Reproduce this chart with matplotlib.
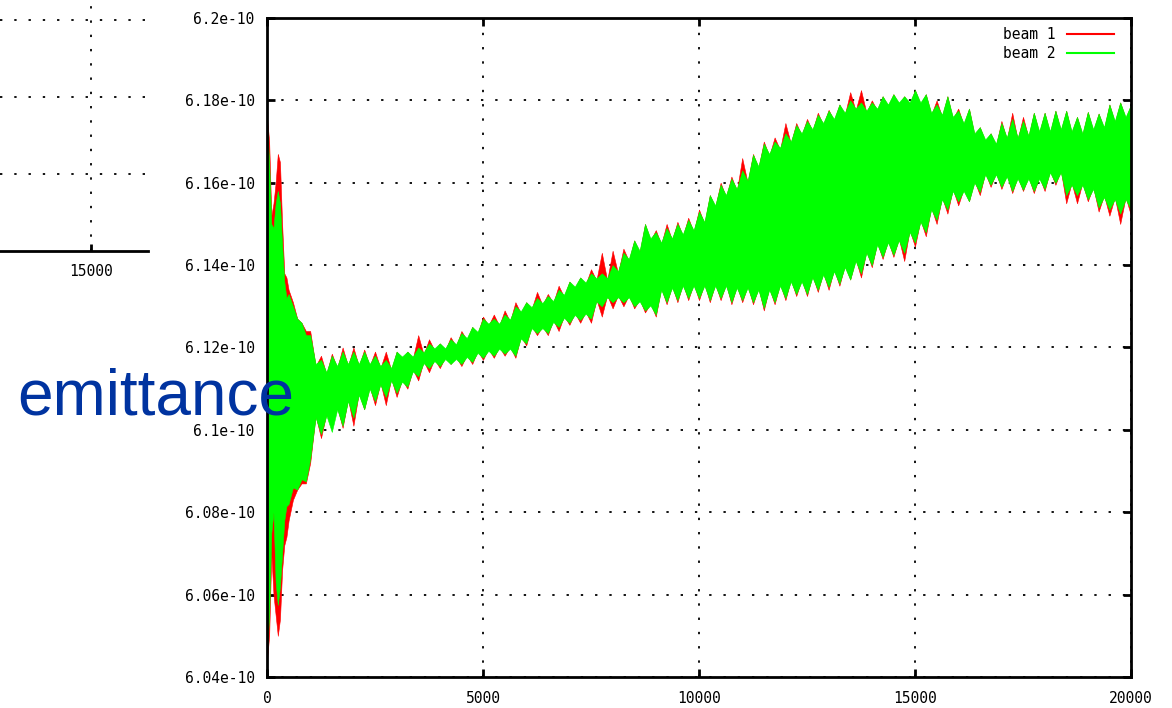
import numpy as np
import matplotlib
matplotlib.use("Agg")
import matplotlib.pyplot as plt
from matplotlib.lines import Line2D

# ---------------- data (emittance in units of 1e-10) ----------------
# early turns (large oscillations)
turns_early = [0, 50, 100, 150, 200, 250, 300, 350, 400, 450, 500, 600, 700, 800, 900]
beam2_max_early = [6.174, 6.165, 6.150, 6.149, 6.155, 6.158, 6.155, 6.145, 6.136, 6.132, 6.133, 6.130, 6.127, 6.126, 6.123]
beam2_min_early = [6.046, 6.055, 6.075, 6.080, 6.063, 6.0575, 6.062, 6.070, 6.078, 6.0815, 6.082, 6.086, 6.0855, 6.088, 6.0875]
beam1_max_early = [6.176, 6.170, 6.152, 6.155, 6.160, 6.167, 6.165, 6.150, 6.138, 6.137, 6.134, 6.131, 6.127, 6.126, 6.124]
beam1_min_early = [6.044, 6.050, 6.070, 6.060, 6.055, 6.050, 6.054, 6.066, 6.072, 6.074, 6.078, 6.083, 6.0855, 6.087, 6.087]

# envelope extremes (tooth tips), every 250 turns from 1000 to 20000
turns_tip = list(range(1000, 20001, 250))
beam2_max_tip = [6.123, 6.117, 6.118, 6.119, 6.119, 6.119, 6.118, 6.117, 6.119, 6.119, 6.120, 6.121,
                 6.121, 6.122, 6.1235, 6.125, 6.127, 6.127, 6.128, 6.130, 6.131, 6.132, 6.1325, 6.134,
                 6.136, 6.137, 6.138, 6.138, 6.140, 6.143, 6.146, 6.150, 6.148, 6.149, 6.150, 6.151,
                 6.153, 6.157, 6.1595, 6.161, 6.163, 6.1668, 6.1695, 6.170, 6.172, 6.174,
                 6.175, 6.1765, 6.1775, 6.179, 6.180, 6.1795, 6.1795, 6.181, 6.1815, 6.181,
                 6.1825, 6.1815, 6.179, 6.181, 6.1775, 6.178, 6.1735, 6.172, 6.1745, 6.1755,
                 6.175, 6.177, 6.177, 6.1775, 6.1775, 6.176, 6.1772, 6.1768, 6.179, 6.1795, 6.179]
beam2_min_tip = [6.093, 6.099, 6.0995, 6.101, 6.103, 6.105, 6.107, 6.108, 6.109, 6.1105, 6.113, 6.115,
                 6.1155, 6.116, 6.116, 6.1165, 6.1175, 6.118, 6.1185, 6.118, 6.121, 6.1235, 6.1235, 6.125,
                 6.126, 6.1267, 6.127, 6.130, 6.131, 6.131, 6.130, 6.129, 6.128, 6.131, 6.1315, 6.132,
                 6.132, 6.1315, 6.132, 6.131, 6.1315, 6.131, 6.1296, 6.131, 6.132, 6.133,
                 6.133, 6.134, 6.1347, 6.1355, 6.1365, 6.138, 6.140, 6.142, 6.1425, 6.143,
                 6.1455, 6.148, 6.151, 6.1535, 6.1555, 6.1555, 6.1578, 6.1595, 6.159, 6.158,
                 6.1583, 6.158, 6.1585, 6.160, 6.157, 6.157, 6.156, 6.154, 6.1535, 6.1525, 6.1535]
beam1_max_tip = [6.124, 6.118, 6.1185, 6.120, 6.120, 6.1195, 6.119, 6.119, 6.119, 6.119, 6.123, 6.122,
                 6.121, 6.1225, 6.124, 6.125, 6.1275, 6.128, 6.129, 6.131, 6.131, 6.1335, 6.133, 6.135,
                 6.136, 6.137, 6.139, 6.143, 6.1435, 6.144, 6.146, 6.150, 6.1485, 6.150, 6.1505, 6.1515,
                 6.1535, 6.157, 6.160, 6.1615, 6.166, 6.167, 6.170, 6.171, 6.1745, 6.1745,
                 6.1755, 6.177, 6.1777, 6.179, 6.182, 6.1825, 6.180, 6.181, 6.1815, 6.181,
                 6.1825, 6.1815, 6.180, 6.181, 6.178, 6.178, 6.1735, 6.172, 6.175, 6.177,
                 6.176, 6.177, 6.177, 6.1775, 6.1775, 6.176, 6.1772, 6.1768, 6.179, 6.1795, 6.179]
beam1_min_tip = [6.092, 6.098, 6.101, 6.1005, 6.101, 6.105, 6.106, 6.106, 6.108, 6.110, 6.112, 6.114,
                 6.115, 6.116, 6.1155, 6.116, 6.117, 6.1175, 6.118, 6.1175, 6.1205, 6.123, 6.123, 6.124,
                 6.1255, 6.126, 6.126, 6.1275, 6.1295, 6.130, 6.1295, 6.1285, 6.1275, 6.1305, 6.131, 6.1315,
                 6.1315, 6.131, 6.1315, 6.1305, 6.131, 6.1305, 6.129, 6.1305, 6.1315, 6.1325,
                 6.1325, 6.1335, 6.134, 6.135, 6.1365, 6.137, 6.1395, 6.1415, 6.142, 6.141,
                 6.1445, 6.147, 6.150, 6.1525, 6.1545, 6.1555, 6.157, 6.159, 6.1585, 6.1575,
                 6.158, 6.1575, 6.158, 6.1595, 6.155, 6.155, 6.1555, 6.153, 6.152, 6.150, 6.152]

# envelope between teeth (notches), every 250 turns from 1125 to 19875
turns_notch = list(range(1125, 19876, 250))
beam2_max_notch = [6.116, 6.114, 6.1155, 6.116, 6.116, 6.116, 6.1155, 6.115,
                   6.1178, 6.1178, 6.1188, 6.1198, 6.1198, 6.1208, 6.1223, 6.1238,
                   6.1258, 6.1258, 6.1268, 6.1288, 6.1298, 6.1308, 6.1313, 6.1328,
                   6.1348, 6.1358, 6.1368, 6.1368, 6.1385, 6.1415, 6.1435, 6.1465,
                   6.1455, 6.1465, 6.1475, 6.1485,
                   6.1505, 6.1545, 6.157, 6.1585, 6.1605, 6.164, 6.167, 6.1685, 6.170, 6.172, 6.173, 6.1745,
                   6.1755, 6.177, 6.178, 6.1775, 6.178, 6.179, 6.1795, 6.1795, 6.1795, 6.177, 6.1765, 6.176,
                   6.1745, 6.172, 6.1705, 6.1695, 6.171, 6.171, 6.1715, 6.1725, 6.1725, 6.173, 6.1725, 6.172,
                   6.173, 6.1735, 6.175, 6.176]
beam2_min_notch = [6.103, 6.1035, 6.105, 6.107, 6.1085, 6.110, 6.111, 6.112,
                   6.1117, 6.1142, 6.1162, 6.1167, 6.1172, 6.1172, 6.1177, 6.1187,
                   6.1192, 6.1197, 6.1197, 6.1222, 6.1247, 6.1247, 6.1262, 6.1272,
                   6.1279, 6.1282, 6.1312, 6.1322, 6.1322, 6.1322, 6.1312, 6.1302,
                   6.134, 6.1345, 6.135, 6.135,
                   6.135, 6.135, 6.135, 6.1345, 6.1345, 6.134, 6.134, 6.135, 6.136, 6.136, 6.137, 6.1377,
                   6.1385, 6.1395, 6.141, 6.143, 6.145, 6.1455, 6.146, 6.148, 6.1505, 6.1535, 6.156, 6.158,
                   6.158, 6.160, 6.162, 6.162, 6.1615, 6.161, 6.161, 6.161, 6.1625, 6.1625, 6.1595, 6.1595,
                   6.1585, 6.1565, 6.156, 6.156]
beam1_max_notch = [6.1155, 6.1135, 6.115, 6.1155, 6.1155, 6.1155, 6.115, 6.1145,
                   6.1173, 6.1173, 6.1183, 6.1193, 6.1193, 6.1203, 6.1218, 6.1233,
                   6.1253, 6.1253, 6.1263, 6.1283, 6.1293, 6.1303, 6.1308, 6.1323,
                   6.1343, 6.1353, 6.1363, 6.1363, 6.1380, 6.1410, 6.1430, 6.1460,
                   6.145, 6.146, 6.147, 6.148,
                   6.150, 6.154, 6.1565, 6.158, 6.160, 6.1635, 6.1665, 6.168, 6.1695, 6.1715, 6.1725, 6.174,
                   6.175, 6.1765, 6.1775, 6.177, 6.1775, 6.1785, 6.179, 6.179, 6.179, 6.1765, 6.176, 6.1755,
                   6.174, 6.1715, 6.170, 6.169, 6.1705, 6.1705, 6.171, 6.172, 6.172, 6.1725, 6.172, 6.1715,
                   6.1725, 6.173, 6.1745, 6.1755]
beam1_min_notch = [6.1035, 6.104, 6.1055, 6.1075, 6.109, 6.1105, 6.1115, 6.1125,
                   6.1122, 6.1147, 6.1167, 6.1172, 6.1177, 6.1177, 6.1182, 6.1192,
                   6.1197, 6.1202, 6.1202, 6.1227, 6.1252, 6.1252, 6.1267, 6.1277,
                   6.1284, 6.1287, 6.1317, 6.1327, 6.1327, 6.1327, 6.1317, 6.1307,
                   6.1345, 6.135, 6.1355, 6.1355,
                   6.1355, 6.1355, 6.1355, 6.135, 6.135, 6.1345, 6.1345, 6.1355, 6.1365, 6.1365, 6.1375, 6.1382,
                   6.139, 6.140, 6.1415, 6.1435, 6.1455, 6.146, 6.1465, 6.1485, 6.151, 6.154, 6.1565, 6.1585,
                   6.1585, 6.1605, 6.1625, 6.1625, 6.162, 6.1615, 6.1615, 6.1615, 6.163, 6.163, 6.160, 6.160,
                   6.159, 6.157, 6.1565, 6.1565]

series_labels = ["beam 1", "beam 2"]
series_colors = ["#ff0000", "#00ff00"]
x_ticks = [0, 5000, 10000, 15000, 20000]
y_ticks = [6.04, 6.06, 6.08, 6.10, 6.12, 6.14, 6.16, 6.18, 6.20]
y_ticklabels = ["6.04e-10", "6.06e-10", "6.08e-10", "6.1e-10", "6.12e-10",
                "6.14e-10", "6.16e-10", "6.18e-10", "6.2e-10"]
overlay_text = "emittance"
prev_xtick = [15000]
prev_ygrid = [1, 2, 3]


def merged(early, tip, notch):
    tt = np.array(turns_early + turns_tip + turns_notch, dtype=float)
    vv = np.array(list(early) + list(tip) + list(notch), dtype=float)
    order = np.argsort(tt, kind="stable")
    return tt[order], vv[order] * 1e-10


# ---------------- figure ----------------
W, H = 1172, 708
fig = plt.figure(figsize=(W / 100, H / 100), dpi=100)
mono = "DejaVu Sans Mono"
tick_fs = 10.5
grid_style = dict(color="black", linestyle=(0, (1.3, 6.6)), linewidth=1.3)


def fx(px):
    return px / W


def fy(py):
    return 1 - py / H


# partial (cropped) previous plot on the left
ax0 = fig.add_axes([0, fy(251), fx(148), fy(0) - fy(251)])
ax0.set_xlim(15000 - 91 * 33, 15000 + 57 * 33)
ax0.set_ylim(0, 251 / 77.0)
ax0.set_xticks(prev_xtick)
ax0.set_xticklabels([str(v) for v in prev_xtick], fontfamily=mono, fontsize=tick_fs)
ax0.set_yticks(prev_ygrid)
ax0.set_yticklabels([])
ax0.tick_params(axis="y", length=0)
ax0.tick_params(axis="x", direction="in", length=5, width=2, pad=9)
for s in ["top", "right", "left"]:
    ax0.spines[s].set_visible(False)
ax0.spines["bottom"].set_linewidth(2)
ax0.grid(True, **grid_style)
ax0.set_facecolor("none")

# main plot
ax = fig.add_axes([fx(267), fy(677), fx(1131) - fx(267), fy(18) - fy(677)])
t1, b1_hi = merged(beam1_max_early, beam1_max_tip, beam1_max_notch)
_, b1_lo = merged(beam1_min_early, beam1_min_tip, beam1_min_notch)
t2, b2_hi = merged(beam2_max_early, beam2_max_tip, beam2_max_notch)
_, b2_lo = merged(beam2_min_early, beam2_min_tip, beam2_min_notch)
ax.fill_between(t1, b1_lo, b1_hi, color=series_colors[0], linewidth=0.4,
                edgecolor=series_colors[0], zorder=2)
ax.fill_between(t2, b2_lo, b2_hi, color=series_colors[1], linewidth=0.4,
                edgecolor=series_colors[1], zorder=3)

ax.set_xlim(0, 20000)
ax.set_ylim(6.04e-10, 6.2e-10)
ax.set_xticks(x_ticks)
ax.set_xticklabels([str(v) for v in x_ticks], fontfamily=mono, fontsize=tick_fs)
ax.set_yticks(np.array(y_ticks) * 1e-10)
ax.set_yticklabels(y_ticklabels, fontfamily=mono, fontsize=tick_fs)
ax.tick_params(direction="in", length=6, width=2, top=True, right=True)
ax.tick_params(axis="y", pad=9)
ax.tick_params(axis="x", pad=10)
for s in ax.spines.values():
    s.set_linewidth(2)
    s.set_zorder(5)
ax.grid(True, zorder=1, **grid_style)
ax.set_axisbelow(True)

handles = [Line2D([], [], color=c, lw=1.5) for c in series_colors]
leg = ax.legend(handles, series_labels, loc="upper right",
                bbox_to_anchor=(fx(1114), fy(27)), bbox_transform=fig.transFigure,
                frameon=False, markerfirst=False, borderaxespad=0, borderpad=0,
                handlelength=3.2, handletextpad=0.8, labelspacing=0.3,
                prop={"family": mono, "size": tick_fs})
leg.set_zorder(6)

# overlay label
fig.text(fx(17), fy(415), overlay_text, fontsize=46, color="#0033a0",
         family="Liberation Sans", ha="left", va="baseline", zorder=10)

fig.savefig("out.png", dpi=100)
